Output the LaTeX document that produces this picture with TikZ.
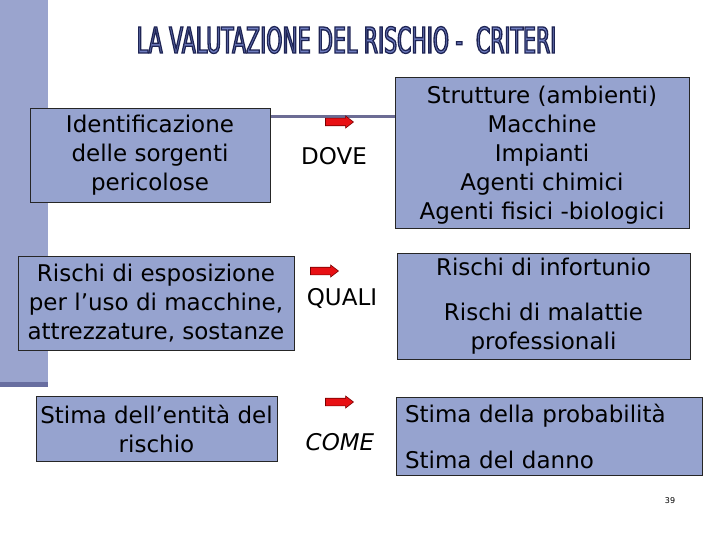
\documentclass[tikz,border=0pt]{standalone}
\usepackage{fontspec}
\setmainfont{DejaVu Sans}
\newfontfamily\titlefont[FakeStretch=0.574]{DejaVu Sans}
\usetikzlibrary{shapes.arrows}
\definecolor{boxfill}{RGB}{150,163,207}
\definecolor{barfill}{RGB}{154,164,206}
\definecolor{bardark}{RGB}{104,110,160}
\definecolor{decoline}{RGB}{108,108,148}
\definecolor{titlefill}{RGB}{112,126,192}
\definecolor{arrowred}{RGB}{232,16,20}
\definecolor{arrowedge}{RGB}{120,0,0}
\newcommand\strokeon{\special{pdf:literal direct 2 Tr 1.3 w 0.118 0.141 0.329 RG}}
\newcommand\strokeoff{\special{pdf:literal direct 0 Tr}}
\tikzset{
  box/.style={draw=black!85, line width=0.9pt, fill=boxfill, inner sep=0pt,
    align=center, font=\fontsize{23}{29}\selectfont},
  redarrow/.style={shape=single arrow, draw=arrowedge, fill=arrowred, line width=0.6pt,
    inner xsep=0pt, inner ysep=0pt, text height=3.5pt, text depth=3.5pt, text width=0pt,
    minimum height=28pt, single arrow head extend=2.2pt, single arrow tip angle=75},
  keyword/.style={font=\fontsize{23}{29}\selectfont},
}
\begin{document}
\begin{tikzpicture}[x=1pt,y=-1pt]
\useasboundingbox (0,0) rectangle (720,540);
% left bar
\fill[barfill] (0,0) rectangle (48,382);
\fill[bardark] (0,382) rectangle (48,387);
% decorative line
\coordinate (lstart) at (48,117);
\coordinate (lend) at (395,117);
\draw[decoline, line width=3pt] (lstart) -- (lend);
% title
\node[text=titlefill, inner sep=0pt, font=\titlefont\fontsize{35.7}{40}\selectfont] (title) at (346.5,40)
  {\strokeon LA VALUTAZIONE DEL RISCHIO -\ \ CRITERI\strokeoff};
% boxes
\node[box, minimum width=240pt, minimum height=94pt] (b1) at (150,155)
  {Identificazione\\delle sorgenti\\pericolose};
\node[box, minimum width=294pt, minimum height=151pt] (b2) at (542,152.5) {};
\node[font=\fontsize{23}{29}\selectfont, align=center, inner sep=0pt] (b2text) at (542,155)
  {Strutture (ambienti)\\Macchine\\Impianti\\Agenti chimici\\Agenti fisici -biologici};
\node[box, minimum width=276pt, minimum height=94pt] (b3) at (156,303)
  {Rischi di esposizione\\per l’uso di macchine,\\attrezzature, sostanze};
\node[box, minimum width=293pt, minimum height=106pt] (b4) at (543.5,306)
  {Rischi di infortunio\\[16pt]Rischi di malattie\\professionali};
\node[box, minimum width=241pt, minimum height=65pt] (b5) at (156.5,428.5)
  {Stima dell’entità del\\rischio};
\node[box, minimum width=306pt, minimum height=78pt, text width=288pt, inner xsep=9pt, align=left] (b6) at (549,436)
  {Stima della probabilità\\[17pt]Stima del danno};
% arrows and keywords
\node[redarrow] (a1) at (337,122) {};
\node[keyword] (k1) at (334,156) {DOVE};
\node[redarrow] (a2) at (322,271) {};
\node[keyword] (k2) at (342,298) {QUALI};
\node[redarrow] (a3) at (337,402) {};
\node[keyword, font=\fontsize{23}{29}\selectfont\itshape] (k3) at (340,442) {COME};
% page number
\node[font=\fontsize{8}{9}\selectfont] (pnum) at (670,501) {39};
\end{tikzpicture}
\end{document}
